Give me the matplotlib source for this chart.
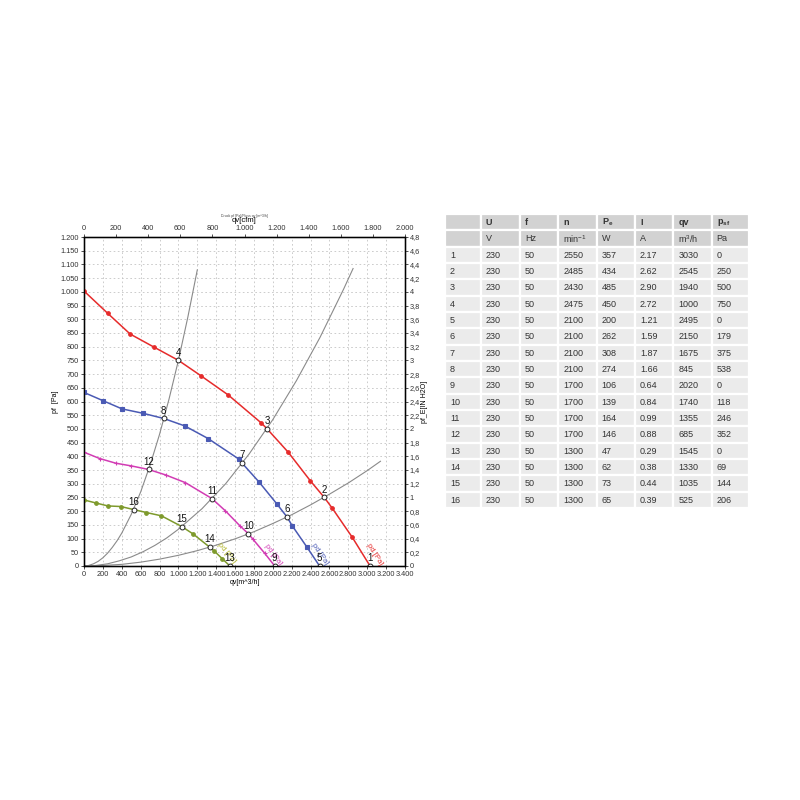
import matplotlib
matplotlib.use("Agg")
import matplotlib.pyplot as plt
from matplotlib.patches import Rectangle
from matplotlib.ticker import FuncFormatter, MultipleLocator

# --- Global Style Settings ---
plt.rcParams['font.family'] = ['Liberation Sans', 'DejaVu Sans']
plt.rcParams['font.size'] = 6

OUTPUT_FILE = "out.png"

# --- Fan curves: (qv [m3/h], pf [Pa]) ---
RED_Q = [0, 253, 489, 738, 1000, 1238, 1527, 1880, 1940, 2163, 2399, 2545, 2629, 2841, 3030]
RED_P = [1003, 921, 846, 799, 750, 694, 624, 521, 500, 415, 310, 250, 211, 105, 0]
BLUE_Q = [0, 201, 403, 625, 845, 1067, 1314, 1640, 1675, 1855, 2046, 2150, 2205, 2357, 2495]
BLUE_P = [633, 603, 573, 557, 538, 511, 465, 390, 375, 306, 225, 179, 147, 71, 0]
MAG_Q = [0, 166, 336, 502, 685, 866, 1074, 1355, 1498, 1650, 1740, 1791, 1915, 2020]
MAG_P = [415, 392, 375, 365, 352, 332, 304, 246, 201, 147, 118, 97, 46, 0]
GRN_Q = [0, 124, 254, 389, 525, 661, 820, 1035, 1155, 1330, 1375, 1466, 1545]
GRN_P = [241, 230, 219, 217, 206, 195, 183, 144, 117, 69, 56, 26, 0]

# --- System (resistance) curves, grey ---
SYS_A_Q = [0, 50, 100, 150, 200, 250, 300, 350, 400, 500, 600, 700, 800, 900, 1000, 1100, 1200]
SYS_A_P = [0, 2, 8, 17, 30, 47, 68, 92, 120, 188, 270, 368, 480, 608, 750, 908, 1080]
SYS_B_Q = [0, 125, 250, 375, 500, 625, 750, 875, 1000, 1250, 1500, 1750, 2000, 2250, 2500, 2750, 2850]
SYS_B_P = [0, 2, 8, 19, 33, 52, 75, 102, 134, 209, 300, 409, 534, 676, 834, 1010, 1085]
SYS_C_Q = [0, 200, 400, 600, 800, 1000, 1200, 1400, 1600, 1800, 2000, 2200, 2400, 2600, 2800, 3000, 3140]
SYS_C_P = [0, 2, 6, 14, 25, 39, 56, 76, 99, 125, 155, 187, 223, 262, 303, 348, 382]

# --- Operating points (table) ---
POINT_IDS = [1, 2, 3, 4, 5, 6, 7, 8, 9, 10, 11, 12, 13, 14, 15, 16]
U_V = [230] * 16
F_HZ = [50] * 16
N_RPM = [2550, 2485, 2430, 2475, 2100, 2100, 2100, 2100, 1700, 1700, 1700, 1700, 1300, 1300, 1300, 1300]
PE_W = [357, 434, 485, 450, 200, 262, 308, 274, 106, 139, 164, 146, 47, 62, 73, 65]
I_A = ["2.17", "2.62", "2.90", "2.72", "1.21", "1.59", "1.87", "1.66",
       "0.64", "0.84", "0.99", "0.88", "0.29", "0.38", "0.44", "0.39"]
QV = [3030, 2545, 1940, 1000, 2495, 2150, 1675, 845, 2020, 1740, 1355, 685, 1545, 1330, 1035, 525]
PSF = [0, 250, 500, 750, 0, 179, 375, 538, 0, 118, 246, 352, 0, 69, 144, 206]

HEAD_1 = ["", "U", "f", "n", "P$_\\mathregular{e}$", "I", "qv", "p$_\\mathregular{sf}$"]
HEAD_2 = ["", "V", "Hz", "min$^\\mathregular{-1}$", "W", "A", "m$^\\mathregular{3}$/h", "Pa"]

CURVES = [
    (RED_Q, RED_P, '#e62b2b', 'o', (3075, 42), -58),
    (BLUE_Q, BLUE_P, '#4a5ab4', 's', (2500, 42), -56),
    (MAG_Q, MAG_P, '#d23cb4', '+', (2005, 42), -54),
    (GRN_Q, GRN_P, '#7e9a2c', 'o', (1510, 48), -50),
]
LABEL_COLORS = ['#e62b2b', '#4a5ab4', '#d23cb4', '#b2b52a']


def dot_thousands(v, _pos=None):
    return f"{int(round(v)):,}".replace(",", ".")


def comma_decimal(v, _pos=None):
    s = f"{v:.1f}".rstrip("0").rstrip(".")
    return s.replace(".", ",")


def draw_chart(fig):
    ax = fig.add_axes([84 / 800, 1 - 566 / 800, 321 / 800, 329 / 800])
    ax.set_xlim(0, 3400)
    ax.set_ylim(0, 1200)
    ax.xaxis.set_major_locator(MultipleLocator(200))
    ax.yaxis.set_major_locator(MultipleLocator(50))
    ax.xaxis.set_major_formatter(FuncFormatter(dot_thousands))
    ax.yaxis.set_major_formatter(FuncFormatter(dot_thousands))
    ax.grid(True, ls=(0, (2, 3)), color='#c4c4c4', lw=0.6)
    ax.tick_params(labelsize=5.3, length=2, width=0.6, pad=1.5, colors='#333333')
    for s in ax.spines.values():
        s.set_linewidth(1.0)

    # system curves
    for q, p in [(SYS_A_Q, SYS_A_P), (SYS_B_Q, SYS_B_P), (SYS_C_Q, SYS_C_P)]:
        ax.plot(q, p, color='#8a8a8a', lw=0.8, zorder=2)

    # fan curves
    numbered = set(zip(QV, PSF))
    for (q, p, col, mk, lpos, rot), lcol in zip(CURVES, LABEL_COLORS):
        ax.plot(q, p, color=col, lw=1.1, zorder=3)
        mq = [a for a, b in zip(q, p) if (a, b) not in numbered]
        mp = [b for a, b in zip(q, p) if (a, b) not in numbered]
        ax.plot(mq, mp, ls='none', marker=mk, ms=2.6, color=col, mew=0.8, zorder=4)
        ax.text(lpos[0], lpos[1], "pd [Pa]", color=lcol, fontsize=5.5, rotation=rot,
                ha='center', va='center', zorder=5)

    # numbered operating points
    for pid, q, p in zip(POINT_IDS, QV, PSF):
        ax.plot(q, p, ls='none', marker='o', ms=3.5, mfc='white', mec='#222222',
                mew=0.7, zorder=6)
        ax.annotate(str(pid), (q, p), xytext=(0, 2), textcoords='offset points',
                    ha='center', va='bottom', fontsize=7, color='#111111', zorder=7)

    ax.set_xlabel("qv[m^3/h]", fontsize=5, labelpad=1)
    ax.set_ylabel("pf  [Pa]", fontsize=5, labelpad=1)

    # top axis: cfm
    top = ax.twiny()
    top.set_xlim(0, 2000)
    top.xaxis.set_major_locator(MultipleLocator(200))
    top.xaxis.set_major_formatter(FuncFormatter(dot_thousands))
    top.tick_params(labelsize=5.3, length=2, width=0.6, pad=1.5, colors='#333333')
    top.set_xlabel("qv[cfm]", fontsize=5.5, labelpad=2)

    # right axis: in H2O
    right = ax.twinx()
    right.set_ylim(0, 4.8)
    right.yaxis.set_major_locator(MultipleLocator(0.2))
    right.yaxis.set_major_formatter(FuncFormatter(comma_decimal))
    right.tick_params(labelsize=5.3, length=2, width=0.6, pad=1.5, colors='#333333')
    right.set_ylabel("pf_E[IN H2O]", fontsize=5, rotation=90, labelpad=1)

    fig.text(244 / 800, 1 - 216 / 800, "Druck pf [Pa]/Fluss qv [m^3/h]",
             fontsize=2.5, ha='center', va='center', color='#444444')


def draw_table(fig):
    edges = [445, 480.7, 520, 558.3, 596.7, 635, 673.3, 711.7, 749.3]
    top_px, row_h = 214.0, 16.33
    tab = fig.add_axes([0, 0, 1, 1])
    tab.set_xlim(0, 800)
    tab.set_ylim(800, 0)
    tab.axis('off')

    rows = [HEAD_1, HEAD_2]
    for i in range(len(POINT_IDS)):
        rows.append([POINT_IDS[i], U_V[i], F_HZ[i], N_RPM[i], PE_W[i], I_A[i], QV[i], PSF[i]])

    for r, row in enumerate(rows):
        y0 = top_px + r * row_h
        face = '#d2d2d2' if r < 2 else '#ebebeb'
        for c, val in enumerate(row):
            x0 = edges[c]
            tab.add_patch(Rectangle((x0, y0), edges[c + 1] - x0, row_h,
                                    facecolor=face, edgecolor='white', lw=1.6))
            tab.text(x0 + 5, y0 + row_h / 2 + 0.5, str(val), fontsize=6.5,
                     ha='left', va='center', color='#333333',
                     fontweight='bold' if r == 0 else 'normal')


def main():
    fig = plt.figure(figsize=(8, 8), dpi=100)
    fig.patch.set_facecolor('white')
    draw_chart(fig)
    draw_table(fig)
    fig.savefig(OUTPUT_FILE, dpi=100)
    plt.close(fig)
    print(f"Saved plot to {OUTPUT_FILE}")


if __name__ == "__main__":
    main()
